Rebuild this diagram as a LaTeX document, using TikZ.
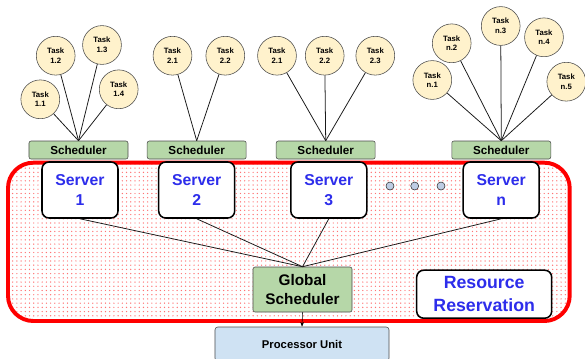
\documentclass[tikz,border=0pt]{standalone}
\usepackage{fontspec}
\setmainfont{Liberation Sans}
\usepackage{tikz}
\usetikzlibrary{positioning,arrows.meta,patterns}
\usepackage{xcolor}
\definecolor{taskyellow}{HTML}{FFF2CC}
\definecolor{schedgreen}{HTML}{B6D7A8}
\definecolor{cpublue}{HTML}{CFE2F3}
\definecolor{srvblue}{RGB}{45,45,235}
\definecolor{dotblue}{RGB}{190,205,228}

\begin{document}
\begin{tikzpicture}[
  x=0.025cm,y=-0.025cm,
  font=\bfseries,
  >={Stealth[length=1.2mm]},
  task/.style={circle,draw=gray!60!black,fill=taskyellow,minimum size=9.7mm,
               inner sep=0pt,align=center,font=\fontsize{5.5}{6.8}\selectfont\bfseries},
  sched/.style={draw=gray!60!black,fill=schedgreen,rounded corners=1.5pt,
                minimum width=24.75mm,minimum height=4.5mm,inner sep=0pt,
                font=\fontsize{8.3}{9}\selectfont\bfseries},
  server/.style={draw,line width=1.1pt,fill=white,rounded corners=5pt,align=center,
                 minimum width=19mm,minimum height=14mm,inner sep=0pt,text=srvblue,
                 font=\fontsize{11.2}{14.5}\selectfont\bfseries},
  link/.style={gray!20!black,line width=0.55pt},
  more/.style={circle,draw=gray!40!black,fill=dotblue,minimum size=2mm,inner sep=0pt},
]
\useasboundingbox (0,0) rectangle (585,358);
% ---------- resource reservation area ----------
\draw[red,line width=2.8pt,rounded corners=18pt,pattern=dots,pattern color=red!55]
  (8,162.7) rectangle (569.7,321);
% ---------- tasks ----------
\node[task] (t11) at (40.3,99.3) {Task\\1.1};
\node[task] (t12) at (55.7,55.7) {Task\\1.2};
\node[task] (t13) at (102,45) {Task\\1.3};
\node[task] (t14) at (118.7,89.3) {Task\\1.4};
\node[task] (t21) at (172.5,55.7) {Task\\2.1};
\node[task] (t22) at (225.3,55.7) {Task\\2.2};
\node[task] (t31) at (277,55.7) {Task\\2.1};
\node[task] (t32) at (324.7,55.7) {Task\\2.2};
\node[task] (t33) at (375.3,55.7) {Task\\2.3};
\node[task] (tn1) at (432.3,80) {Task\\n.1};
\node[task] (tn2) at (451.7,43.3) {Task\\n.2};
\node[task] (tn3) at (500.7,26) {Task\\n.3};
\node[task] (tn4) at (544,37.3) {Task\\n.4};
\node[task] (tn5) at (566.3,81.7) {Task\\n.5};
% ---------- local schedulers ----------
\node[sched] (sched1) at (78.5,150) {Scheduler};
\node[sched] (sched2) at (196.7,150) {Scheduler};
\node[sched] (sched3) at (325.7,150) {Scheduler};
\node[sched] (schedn) at (501.3,150) {Scheduler};
% ---------- servers ----------
\node[server] (srv1) at (80,190) {Server\\1};
\node[server] (srv2) at (196.7,190) {Server\\2};
\node[server] (srv3) at (328.8,190) {Server\\3};
\node[server] (srvn) at (501.2,190) {Server\\n};
\node[more] (dot1) at (390,186) {};
\node[more] (dot2) at (414.7,186) {};
\node[more] (dot3) at (441,186) {};
% ---------- global level ----------
\node[sched,minimum width=24.75mm,minimum height=11.25mm,align=center,
      font=\fontsize{10.9}{13}\selectfont\bfseries] (gsched) at (302.5,289.5) {Global\\Scheduler};
\node[server,minimum width=33.75mm,minimum height=12mm,
      font=\fontsize{12.6}{16}\selectfont\bfseries] (resv) at (484.2,294.2) {Resource\\Reservation};
\node[draw=gray!60!black,fill=cpublue,rounded corners=2pt,minimum width=43.5mm,
      minimum height=8.5mm,font=\fontsize{8}{9}\selectfont\bfseries] (cpu) at (302,344) {Processor Unit};
% =================== edges ===================
\foreach \t in {t11,t12,t13,t14}{\draw[link] (\t) -- (sched1.north);}
\foreach \t in {t21,t22}{\draw[link] (\t) -- (sched2.north);}
\foreach \t in {t31,t32,t33}{\draw[link] (\t) -- (sched3.north);}
\foreach \t in {tn1,tn2,tn3,tn4,tn5}{\draw[link] (\t) -- (schedn.north);}
\foreach \s in {srv1,srv2,srv3,srvn}{\draw[link] (\s.south) -- (gsched.north);}
\draw[->,thin] (gsched.south) -- (cpu.north);
\end{tikzpicture}
\end{document}
